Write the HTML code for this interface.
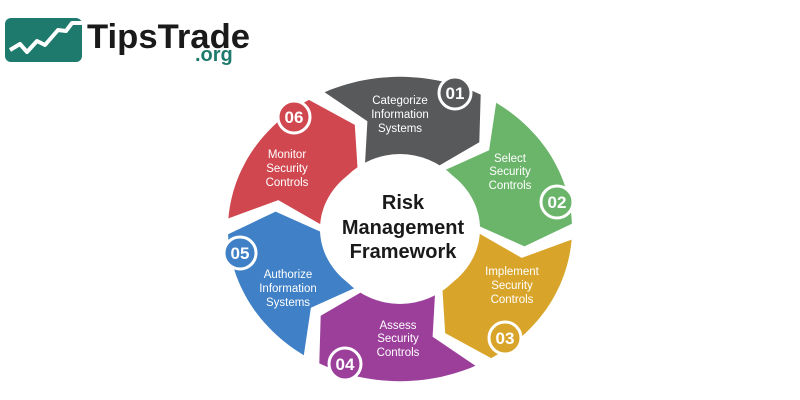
<!DOCTYPE html>
<html><head><meta charset="utf-8"><style>
html,body{margin:0;padding:0;background:#fff;width:800px;height:400px;overflow:hidden}
svg{display:block}
</style></head><body>
<svg id="s" width="800" height="400" viewBox="0 0 800 400" xmlns="http://www.w3.org/2000/svg" font-family="Liberation Sans, sans-serif">
<rect x="5" y="18" width="77" height="44" rx="6" fill="#1f7a6e"/>
<polyline points="10,50 20,44 27,52 37,41 45,45 58,30 66,31 72,23 82,23" fill="none" stroke="#fff" stroke-width="4" stroke-linejoin="round"/>
<text x="87" y="48" font-size="34" font-weight="bold" fill="#1a1a1a" textLength="163" lengthAdjust="spacingAndGlyphs">TipsTrade</text>
<text x="195" y="61" font-size="20" font-weight="bold" fill="#1f7a6e">.org</text>
<g id="ring"></g>
<circle cx="400" cy="229" r="75" fill="#fff"/>
<g font-size="20" font-weight="bold" fill="#1a1a1a" text-anchor="middle">
<text x="403" y="209">Risk</text>
<text x="403" y="234">Management</text>
<text x="403" y="258">Framework</text>
</g>
<g font-size="11.5" fill="#fff" text-anchor="middle">
<text x="400" y="104">Categorize</text><text x="400" y="118">Information</text><text x="400" y="132">Systems</text>
<text x="510" y="162">Select</text><text x="510" y="175">Security</text><text x="510" y="189">Controls</text>
<text x="512" y="275">Implement</text><text x="512" y="289">Security</text><text x="512" y="303">Controls</text>
<text x="398" y="329">Assess</text><text x="398" y="342">Security</text><text x="398" y="356">Controls</text>
<text x="288" y="278">Authorize</text><text x="288" y="292">Information</text><text x="288" y="306">Systems</text>
<text x="287" y="158">Monitor</text><text x="287" y="172">Security</text><text x="287" y="186">Controls</text>
</g>
<g id="nums"></g>
</svg>
<script>
var cx=400,cy=229,sy=0.885,Ro=172,Ri=80,Rm=126,d=11,g=6;
var cols=["#58595b","#6bb56b","#d8a52a","#9b3f9b","#3f80c6","#d0474f"];
function P(a,r){var t=a*Math.PI/180;return (cx+r*Math.cos(t)).toFixed(1)+","+(cy+r*Math.sin(t)*sy).toFixed(1);}
var h="";
for(var i=0;i<6;i++){
 var c=-92+60*i,a0=c-30+g,a1=c+30,p="M"+P(a0,Ro);
 for(var a=a0;a<=a1;a+=2)p+=" L"+P(a,Ro);
 p+=" L"+P(a1,Ro)+" L"+P(a1+d,Rm)+" L"+P(a1,Ri);
 for(var a=a1;a>=a0;a-=2)p+=" L"+P(a,Ri);
 p+=" L"+P(a0,Ri)+" L"+P(a0+d,Rm)+" Z";
 h+='<path d="'+p+'" fill="'+cols[i]+'"/>';
}
document.getElementById("ring").innerHTML=h;
var np=[[455,93],[557,202],[505,338],[345,364],[240,253],[294,117]],n="";
for(var i=0;i<6;i++){
 n+='<circle cx="'+np[i][0]+'" cy="'+np[i][1]+'" r="16" fill="'+cols[i]+'" stroke="#fff" stroke-width="3"/>';
 n+='<text x="'+np[i][0]+'" y="'+(np[i][1]+6)+'" font-size="17" font-weight="bold" fill="#fff" text-anchor="middle">0'+(i+1)+'</text>';
}
document.getElementById("nums").innerHTML=n;
</script>
</body></html>
